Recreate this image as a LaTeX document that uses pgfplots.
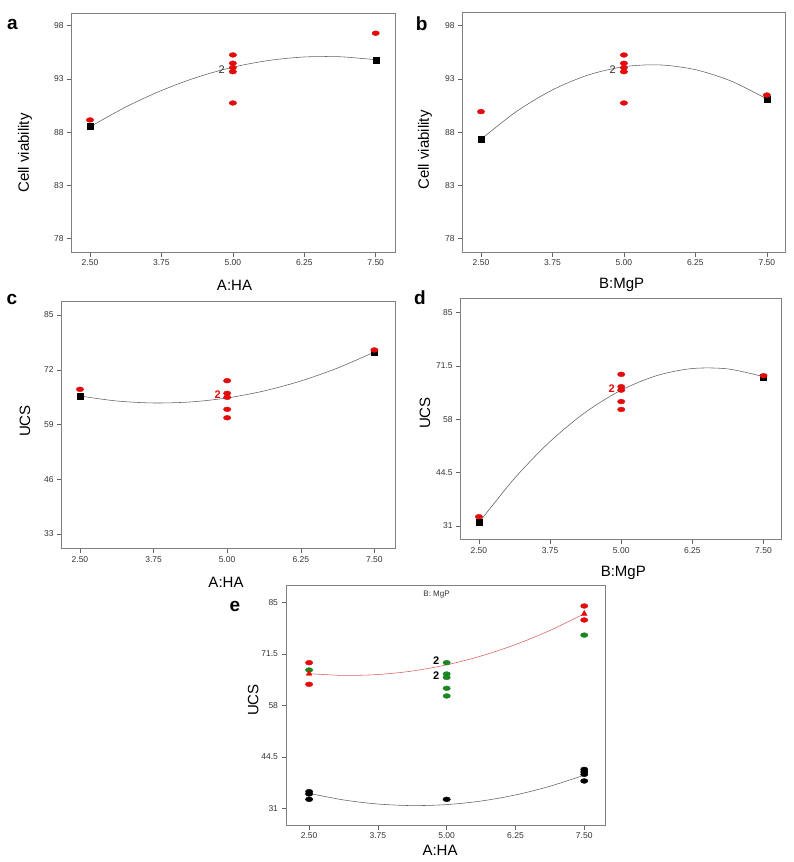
\documentclass[border=0pt]{standalone}
\usepackage{pgfplots}
\pgfplotsset{compat=1.18}
\usepackage{fontspec}
\setmainfont{Liberation Sans}
\definecolor{ptred}{RGB}{226,12,12}
\definecolor{ptgreen}{RGB}{28,135,34}
\definecolor{curvegray}{RGB}{95,95,95}
\definecolor{curvered}{RGB}{215,95,95}
\pgfplotsset{
  panel/.style={
    scale only axis, anchor=south west,
    axis line style={black!50, line width=0.6pt},
    tick align=outside, tick pos=left, major tick length=4.5pt,
    tick style={black!60, line width=0.5pt},
    tick label style={font=\fontsize{8.5}{9}\selectfont, text=black!80},
    xtick={2.5,3.75,5,6.25,7.5}, xticklabels={2.50,3.75,5.00,6.25,7.50},
  },
  dotr/.style={only marks, mark=*, mark size=2.4pt, mark options={xscale=1.55, fill=ptred, draw=ptred}},
  dotg/.style={only marks, mark=*, mark size=2.4pt, mark options={xscale=1.55, fill=ptgreen, draw=ptgreen}},
  dotk/.style={only marks, mark=*, mark size=2.4pt, mark options={xscale=1.55, fill=black, draw=black}},
  sqk/.style={only marks, mark=square*, mark size=3pt, mark options={fill=black, draw=black}},
  trir/.style={only marks, mark=triangle*, mark size=3.3pt, mark options={fill=ptred, draw=ptred}},
  curve/.style={no marks, smooth, color=curvegray, line width=0.55pt},
}
\begin{document}
\begin{tikzpicture}
\useasboundingbox (0pt,0pt) rectangle (794pt,-862pt);
% ---------------- panel a
\begin{axis}[panel, at={(71.7pt,-252pt)}, width=324pt, height=238.7pt,
  xmin=2.18, xmax=7.85, ymin=76.75, ymax=99.16,
  ytick={78,83,88,93,98}, yticklabels={78,83,88,93,98}]
\addplot[curve] coordinates {(2.5,88.5) (3.125,90.36) (3.75,91.91) (4.375,93.16) (5,94.1) (5.625,94.73) (6.25,95.06) (6.875,95.08) (7.5,94.8)};
\addplot[sqk] coordinates {(2.5,88.52) (7.5,94.8)};
\addplot[dotr] coordinates {(2.5,89.15) (5,95.25) (5,94.47) (5,94.06) (5,93.68) (5,90.74) (7.5,97.29)};
\node[anchor=east, font=\fontsize{11}{11}\selectfont, text=black!80] at (axis cs:4.92,93.9) {2};
\end{axis}
\node[font=\fontsize{15}{15}\selectfont, rotate=90] at (25pt,-153pt) {Cell viability};
\node[font=\fontsize{15}{15}\selectfont] at (234.5pt,-285pt) {A:HA};
\node[font=\bfseries\fontsize{19}{19}\selectfont] at (12.5pt,-24pt) {a};
% ---------------- panel b
\begin{axis}[panel, at={(462.7pt,-252pt)}, width=323pt, height=239.3pt,
  xmin=2.18, xmax=7.83, ymin=76.75, ymax=99.22,
  ytick={78,83,88,93,98}, yticklabels={78,83,88,93,98}]
\addplot[curve] coordinates {(2.5,87.33) (3.125,89.96) (3.75,91.97) (4.375,93.37) (5,94.15) (5.625,94.32) (6.25,93.87) (6.875,92.8) (7.5,91.12)};
\addplot[sqk] coordinates {(2.5,87.33) (7.5,91.12)};
\addplot[dotr] coordinates {(2.5,89.93) (5,95.25) (5,94.47) (5,94.06) (5,93.68) (5,90.74) (7.5,91.49)};
\node[anchor=east, font=\fontsize{11}{11}\selectfont, text=black!80] at (axis cs:4.92,93.9) {2};
\end{axis}
\node[font=\fontsize{15}{15}\selectfont, rotate=90] at (425pt,-150pt) {Cell viability};
\node[font=\fontsize{15}{15}\selectfont] at (621.7pt,-285pt) {B:MgP};
\node[font=\bfseries\fontsize{19}{19}\selectfont] at (421.7pt,-24pt) {b};
% ---------------- panel c
\begin{axis}[panel, at={(61.7pt,-548.3pt)}, width=333.3pt, height=246.6pt,
  xmin=2.19, xmax=7.85, ymin=29.6, ymax=88.16,
  ytick={33,46,59,72,85}, yticklabels={33,46,59,72,85}]
\addplot[curve] coordinates {(2.5,65.76) (3.125,64.58) (3.75,64.11) (4.375,64.35) (5,65.3) (5.625,66.96) (6.25,69.33) (6.875,72.41) (7.5,76.2)};
\addplot[sqk] coordinates {(2.5,65.76) (7.5,76.2)};
\addplot[dotr] coordinates {(2.5,67.35) (5,69.4) (5,66.4) (5,65.45) (5,62.6) (5,60.6) (7.5,76.7)};
\node[anchor=east, font=\bfseries\fontsize{11}{11}\selectfont, text=ptred] at (axis cs:4.95,66.0) {2};
\end{axis}
\node[font=\fontsize{15}{15}\selectfont, rotate=90] at (25pt,-421pt) {UCS};
\node[font=\fontsize{15}{15}\selectfont] at (226pt,-582pt) {A:HA};
\node[font=\bfseries\fontsize{19}{19}\selectfont] at (12pt,-299pt) {c};
% ---------------- panel d
\begin{axis}[panel, at={(460.7pt,-539.3pt)}, width=321pt, height=241pt,
  xmin=2.18, xmax=7.82, ymin=27.63, ymax=88.65,
  ytick={31,44.5,58,71.5,85}, yticklabels={31,44.5,58,71.5,85}]
\addplot[curve] coordinates {(2.5,31.85) (3.125,43.06) (3.75,52.39) (4.375,59.84) (5,65.4) (5.625,69.08) (6.25,70.87) (6.875,70.77) (7.5,68.8)};
\addplot[sqk] coordinates {(2.5,31.84) (7.5,68.8)};
\addplot[dotr] coordinates {(2.5,33.35) (5,69.4) (5,66.27) (5,65.4) (5,62.5) (5,60.5) (7.5,69.05)};
\node[anchor=east, font=\bfseries\fontsize{11}{11}\selectfont, text=ptred] at (axis cs:4.95,65.86) {2};
\end{axis}
\node[font=\fontsize{15}{15}\selectfont, rotate=90] at (425pt,-413pt) {UCS};
\node[font=\fontsize{15}{15}\selectfont] at (623.3pt,-572.7pt) {B:MgP};
\node[font=\bfseries\fontsize{19}{19}\selectfont] at (420pt,-298pt) {d};
% ---------------- panel e
\begin{axis}[panel, at={(286pt,-825pt)}, width=319.7pt, height=240pt,
  xmin=2.08, xmax=7.89, ymin=26.62, ymax=89.53,
  ytick={31,44.5,58,71.5,85}, yticklabels={31,44.5,58,71.5,85}]
\addplot[no marks, smooth, color=curvered, line width=0.55pt] coordinates {(2.5,66.3) (3.125,65.83) (3.75,66.06) (4.375,66.98) (5,68.6) (5.625,70.91) (6.25,73.91) (6.875,77.61) (7.5,82.0)};
\addplot[curve] coordinates {(2.5,34.93) (3.125,33.19) (3.75,32.12) (4.375,31.71) (5,31.97) (5.625,32.9) (6.25,34.5) (6.875,36.77) (7.5,39.7)};
\addplot[dotr] coordinates {(2.5,69.17) (2.5,63.5) (7.5,84.03) (7.5,80.36)};
\addplot[dotg] coordinates {(2.5,67.25) (5,69.17) (5,66.2) (5,65.3) (5,62.46) (5,60.44) (7.5,76.4)};
\addplot[trir] coordinates {(2.5,66.3) (7.5,82.0)};
\addplot[dotk] coordinates {(2.5,35.36) (2.5,34.75) (2.5,33.35) (5,33.35) (7.5,41.2) (7.5,40.6) (7.5,39.9) (7.5,38.16)};
\node[anchor=east, font=\bfseries\fontsize{11}{11}\selectfont] at (axis cs:4.93,69.6) {2};
\node[anchor=east, font=\bfseries\fontsize{11}{11}\selectfont] at (axis cs:4.93,65.8) {2};
\node[font=\fontsize{8}{8}\selectfont, text=black!80] at ([yshift=-10pt]rel axis cs:0.471,1) {B: MgP};
\end{axis}
\node[font=\fontsize{15}{15}\selectfont, rotate=90] at (253.3pt,-700pt) {UCS};
\node[font=\fontsize{15}{15}\selectfont] at (440pt,-850pt) {A:HA};
\node[font=\bfseries\fontsize{19}{19}\selectfont] at (235pt,-606pt) {e};
\end{tikzpicture}
\end{document}
